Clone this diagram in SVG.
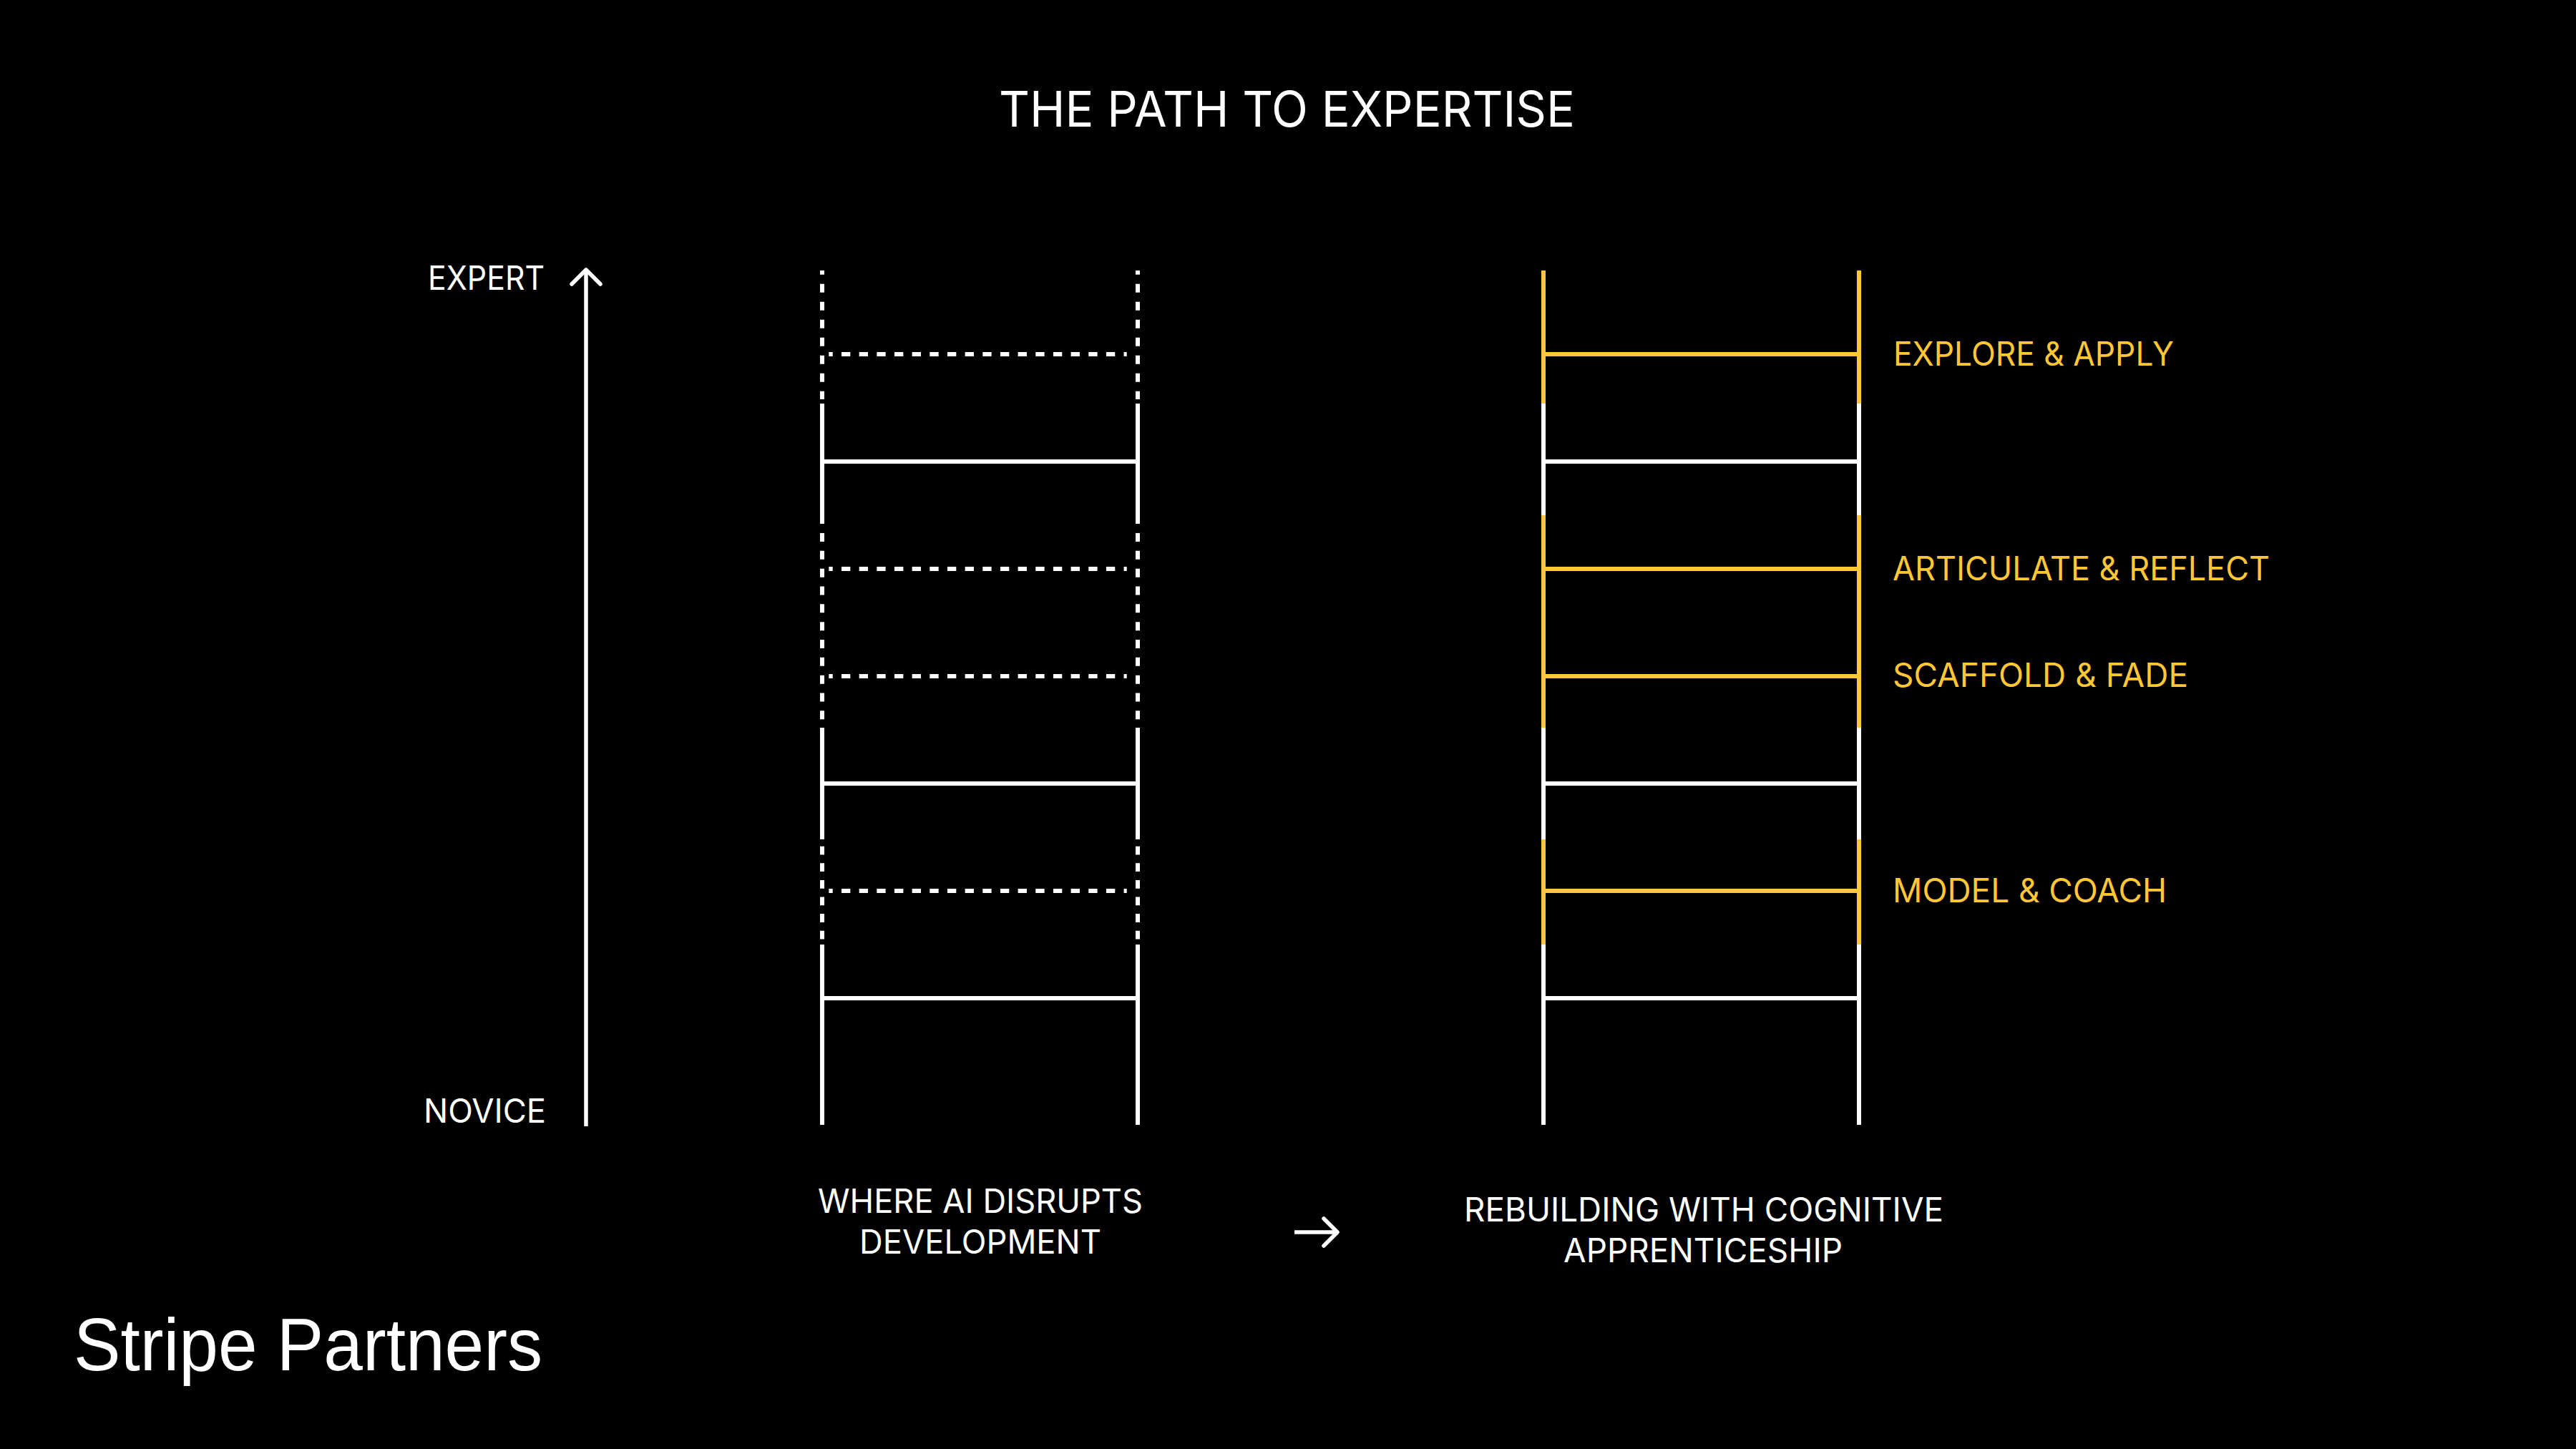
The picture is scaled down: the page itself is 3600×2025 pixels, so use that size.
<svg xmlns="http://www.w3.org/2000/svg" width="3600" height="2025" viewBox="0 0 3600 2025">
<defs>
<style>
.bg{fill:#000}
.t{font-family:Inter,"Liberation Sans",sans-serif;fill:#fff}
.lab{font-size:46px}
.y{fill:#FFC737}
.w{stroke:#fff;stroke-width:6;fill:none}
.yl{stroke:#FFC737;stroke-width:6;fill:none}
.ax{stroke:#fff;stroke-width:5.5;fill:none;stroke-linecap:round;stroke-linejoin:round}
.dh{stroke-dasharray:12.33 12.33;stroke-dashoffset:6.93}
</style>
</defs>
<rect class="bg" x="0" y="0" width="3600" height="2025"/>

<g id="title">
<text class="t" x="1396" y="177" font-size="69" textLength="805" lengthAdjust="spacingAndGlyphs">THE PATH TO EXPERTISE</text>
</g>

<g id="axis">
<line class="ax" x1="819" y1="380" x2="819" y2="1574" style="stroke-linecap:butt"/>
<polyline class="ax" points="799,397 819,377 839,397"/>
<text class="t lab" x="598" y="405" textLength="163" lengthAdjust="spacingAndGlyphs">EXPERT</text>
<text class="t lab" x="592" y="1569" textLength="171" lengthAdjust="spacingAndGlyphs">NOVICE</text>
</g>

<g id="ladder-disrupted">
<!-- rails -->
<g class="w">
<line x1="1149" y1="378" x2="1149" y2="558" style="stroke-dasharray:12 13;stroke-dashoffset:6.3"/>
<line x1="1590" y1="378" x2="1590" y2="558" style="stroke-dasharray:12 13;stroke-dashoffset:6.3"/>
<line x1="1149" y1="564" x2="1149" y2="732"/>
<line x1="1590" y1="564" x2="1590" y2="732"/>
<line x1="1149" y1="745" x2="1149" y2="1006" style="stroke-dasharray:12 12.83"/>
<line x1="1590" y1="745" x2="1590" y2="1006" style="stroke-dasharray:12 12.83"/>
<line x1="1149" y1="1017" x2="1149" y2="1173"/>
<line x1="1590" y1="1017" x2="1590" y2="1173"/>
<line x1="1149" y1="1182.7" x2="1149" y2="1312.7" style="stroke-dasharray:11.8 11.8"/>
<line x1="1590" y1="1182.7" x2="1590" y2="1312.7" style="stroke-dasharray:11.8 11.8"/>
<line x1="1149" y1="1320" x2="1149" y2="1572"/>
<line x1="1590" y1="1320" x2="1590" y2="1572"/>
</g>
<!-- rungs -->
<g class="w">
<line class="dh" x1="1158.3" y1="495" x2="1574.7" y2="495"/>
<line x1="1149" y1="645" x2="1590" y2="645"/>
<line class="dh" x1="1158.3" y1="795" x2="1574.7" y2="795"/>
<line class="dh" x1="1158.3" y1="945" x2="1574.7" y2="945"/>
<line x1="1149" y1="1095" x2="1590" y2="1095"/>
<line class="dh" x1="1158.3" y1="1245" x2="1574.7" y2="1245"/>
<line x1="1149" y1="1395" x2="1590" y2="1395"/>
</g>
<text class="t lab" x="1143" y="1695" textLength="454" lengthAdjust="spacingAndGlyphs">WHERE AI DISRUPTS</text>
<text class="t lab" x="1201" y="1752" textLength="338" lengthAdjust="spacingAndGlyphs">DEVELOPMENT</text>
</g>

<g id="connectors">
<line class="ax" x1="1809" y1="1722" x2="1869" y2="1722" style="stroke-linecap:butt"/>
<polyline class="ax" points="1850,1703 1869,1722 1850,1741"/>
</g>

<g id="ladder-rebuilt">
<g class="yl">
<line x1="2157" y1="378" x2="2157" y2="564"/>
<line x1="2598" y1="378" x2="2598" y2="564"/>
<line x1="2157" y1="720" x2="2157" y2="1017"/>
<line x1="2598" y1="720" x2="2598" y2="1017"/>
<line x1="2157" y1="1173" x2="2157" y2="1320"/>
<line x1="2598" y1="1173" x2="2598" y2="1320"/>
</g>
<g class="w">
<line x1="2157" y1="564" x2="2157" y2="720"/>
<line x1="2598" y1="564" x2="2598" y2="720"/>
<line x1="2157" y1="1017" x2="2157" y2="1173"/>
<line x1="2598" y1="1017" x2="2598" y2="1173"/>
<line x1="2157" y1="1320" x2="2157" y2="1572"/>
<line x1="2598" y1="1320" x2="2598" y2="1572"/>
</g>
<g class="yl">
<line x1="2157" y1="495" x2="2598" y2="495"/>
<line x1="2157" y1="795" x2="2598" y2="795"/>
<line x1="2157" y1="945" x2="2598" y2="945"/>
<line x1="2157" y1="1245" x2="2598" y2="1245"/>
</g>
<g class="w">
<line x1="2157" y1="645" x2="2598" y2="645"/>
<line x1="2157" y1="1095" x2="2598" y2="1095"/>
<line x1="2157" y1="1395" x2="2598" y2="1395"/>
</g>
<text class="t lab" x="2046" y="1707" textLength="670" lengthAdjust="spacingAndGlyphs">REBUILDING WITH COGNITIVE</text>
<text class="t lab" x="2185" y="1764" textLength="390" lengthAdjust="spacingAndGlyphs">APPRENTICESHIP</text>
</g>

<g id="label-explore"><text class="t lab y" x="2646" y="511" textLength="392" lengthAdjust="spacingAndGlyphs">EXPLORE &amp; APPLY</text></g>
<g id="label-articulate"><text class="t lab y" x="2645" y="811" textLength="527" lengthAdjust="spacingAndGlyphs">ARTICULATE &amp; REFLECT</text></g>
<g id="label-scaffold"><text class="t lab y" x="2645" y="960" textLength="413" lengthAdjust="spacingAndGlyphs">SCAFFOLD &amp; FADE</text></g>
<g id="label-model"><text class="t lab y" x="2645" y="1261" textLength="383" lengthAdjust="spacingAndGlyphs">MODEL &amp; COACH</text></g>

<g id="logo">
<text x="103" y="1915" font-family="'Liberation Sans',Arial,sans-serif" font-size="104" fill="#fff" textLength="655" lengthAdjust="spacingAndGlyphs">Stripe Partners</text>
</g>
</svg>
